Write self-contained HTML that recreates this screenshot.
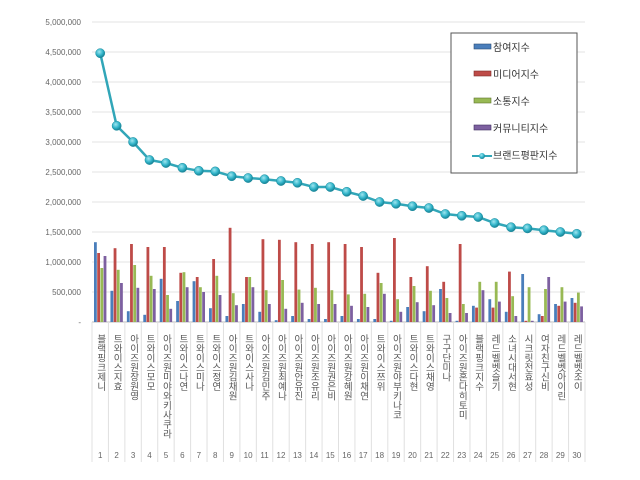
<!DOCTYPE html>
<html><head><meta charset="utf-8"><style>
html,body{margin:0;padding:0;background:#fff;}
svg{display:block;font-family:"Liberation Sans","Noto Sans CJK KR",sans-serif;}
</style></head><body>
<svg id="chart" width="640" height="480" viewBox="0 0 640 480" xmlns="http://www.w3.org/2000/svg">
<defs>
<radialGradient id="dot" cx="40%" cy="35%" r="65%"><stop offset="0%" stop-color="#9fe6f0"/><stop offset="60%" stop-color="#2fb3c8"/><stop offset="100%" stop-color="#1a7f92"/></radialGradient>
</defs>
<g id="grid"></g>
<g id="yaxis"></g>
<g id="xaxis"></g>
<g id="bars"></g>
<g id="line"></g>
<g>
<rect x="451" y="33" width="126" height="140" fill="#fff" stroke="#555" stroke-width="1"/>
<g><rect x="474" y="44" width="17" height="5" fill="#4a7ebb" stroke="#2c4d75" stroke-width="0.6"/><text x="493" y="51" font-size="10" fill="#333">참여지수</text></g>
<g><rect x="474" y="71" width="17" height="5" fill="#be4b48" stroke="#7d2c2a" stroke-width="0.6"/><text x="493" y="78" font-size="10" fill="#333">미디어지수</text></g>
<g><rect x="474" y="98" width="17" height="5" fill="#98b954" stroke="#5f7530" stroke-width="0.6"/><text x="493" y="105" font-size="10" fill="#333">소통지수</text></g>
<g><rect x="474" y="125" width="17" height="5" fill="#7d60a0" stroke="#3f3060" stroke-width="0.6"/><text x="493" y="132" font-size="10" fill="#333">커뮤니티지수</text></g>
<g><line x1="472" y1="156" x2="492" y2="156" stroke="#31a6b8" stroke-width="2"/><circle cx="482" cy="156" r="3" fill="url(#dot)"/><text x="493" y="159" font-size="10" fill="#333">브랜드평판지수</text></g>
</g>
</svg>
<script>
const names = ["블랙핑크 제니","트와이스 지효","아이즈원 장원영","트와이스 모모","아이즈원 미야와키사쿠라","트와이스 나연","트와이스 미나","트와이스 정연","아이즈원 김채원","트와이스 사나","아이즈원 김민주","아이즈원 최예나","아이즈원 안유진","아이즈원 조유리","아이즈원 권은비","아이즈원 강혜원","아이즈원 이채연","트와이스 쯔위","아이즈원 야부키나코","트와이스 다현","트와이스 채영","구구단 미나","아이즈원 혼다히토미","블랙핑크 지수","레드벨벳 슬기","소녀시대 서현","시크릿 전효성","여자친구 신비","레드벨벳 아이린","레드벨벳 조이"];
const participation = [1330000,520000,180000,120000,720000,350000,680000,230000,100000,300000,170000,30000,100000,50000,50000,100000,50000,50000,20000,250000,180000,550000,20000,270000,380000,170000,800000,130000,300000,400000];
const media = [1150000,1230000,1300000,1250000,1250000,820000,750000,1050000,1570000,750000,1380000,1370000,1330000,1300000,1330000,1300000,1250000,820000,1400000,750000,930000,670000,1300000,240000,240000,840000,20000,100000,270000,320000];
const communication = [900000,870000,950000,770000,450000,830000,580000,770000,480000,750000,530000,700000,540000,570000,530000,460000,470000,650000,380000,600000,520000,400000,300000,670000,670000,430000,580000,550000,580000,490000];
const community = [1100000,650000,570000,550000,220000,580000,500000,450000,280000,580000,300000,220000,320000,300000,300000,270000,250000,470000,170000,330000,280000,150000,150000,530000,340000,100000,20000,750000,340000,260000];
const brand = [4480000,3270000,3000000,2700000,2650000,2570000,2520000,2510000,2430000,2400000,2380000,2350000,2320000,2250000,2250000,2170000,2100000,2000000,1970000,1930000,1900000,1800000,1770000,1750000,1650000,1580000,1560000,1530000,1500000,1470000];
const yTicks = [0,500000,1000000,1500000,2000000,2500000,3000000,3500000,4000000,4500000,5000000];
const yTickLabels = ["-","500,000","1,000,000","1,500,000","2,000,000","2,500,000","3,000,000","3,500,000","4,000,000","4,500,000","5,000,000"];

const NS="http://www.w3.org/2000/svg";
const X0=92, X1=585, Y0=322, Y1=22, YMAX=5000000;
const bw=(X1-X0)/names.length;
function y(v){return Y0-(v/YMAX)*(Y0-Y1);}
function xc(i){return X0+bw*(i+0.5);}
function mk(tag,attrs,parent){const e=document.createElementNS(NS,tag);for(const k in attrs)e.setAttribute(k,attrs[k]);parent.appendChild(e);return e;}
const grid=document.getElementById('grid'),yaxis=document.getElementById('yaxis'),xaxis=document.getElementById('xaxis'),bars=document.getElementById('bars'),line=document.getElementById('line');
yTicks.forEach((t,i)=>{
  const g=mk('line',{x1:X0,x2:X1,y1:y(t),y2:y(t),stroke:i===0?'#bbb':'#e3e3e3','stroke-width':1},grid);
  
  
  const tx=mk('text',{x:81,y:y(t)+3,'text-anchor':'end','font-size':8,fill:'#666'},yaxis);
  tx.textContent=yTickLabels[i];
  
  
});
for(let i=0;i<=names.length;i++){
  const l=mk('line',{x1:X0+bw*i,x2:X0+bw*i,y1:Y0,y2:462,stroke:'#e0e0e0','stroke-width':1},xaxis);
  
  
}
names.forEach((n,i)=>{
  const t=mk('text',{x:xc(i),y:334,'font-size':9.5,fill:'#555','writing-mode':'vertical-rl','glyph-orientation-vertical':0},xaxis);
  t.textContent=n.replace(' ','');
  
  
  const nn=mk('text',{x:xc(i),y:458,'text-anchor':'middle','font-size':8,fill:'#666'},xaxis);
  nn.textContent=String(i+1);
  
  
});
const series=[[participation,'#4a7ebb'],[media,'#be4b48'],[communication,'#98b954'],[community,'#7d60a0']];
const barW=3.2;
names.forEach((n,i)=>{
  series.forEach((s,k)=>{
    const v=s[0][i];
    const r=mk('rect',{x:X0+bw*i+2+k*barW,y:y(v),width:barW-0.4,height:Y0-y(v),fill:s[1]},bars);
    
    
  });
});
const pts=brand.map((v,i)=>xc(i)+','+y(v)).join(' ');
const pl=mk('polyline',{points:pts,fill:'none',stroke:'#31a6b8','stroke-width':2.5},line);


brand.forEach((v,i)=>{
  const c=mk('circle',{cx:xc(i),cy:y(v),r:4.6,fill:'url(#dot)',stroke:'#1d8ea0','stroke-width':0.5},line);
  
  
});
</script>
</body></html>
